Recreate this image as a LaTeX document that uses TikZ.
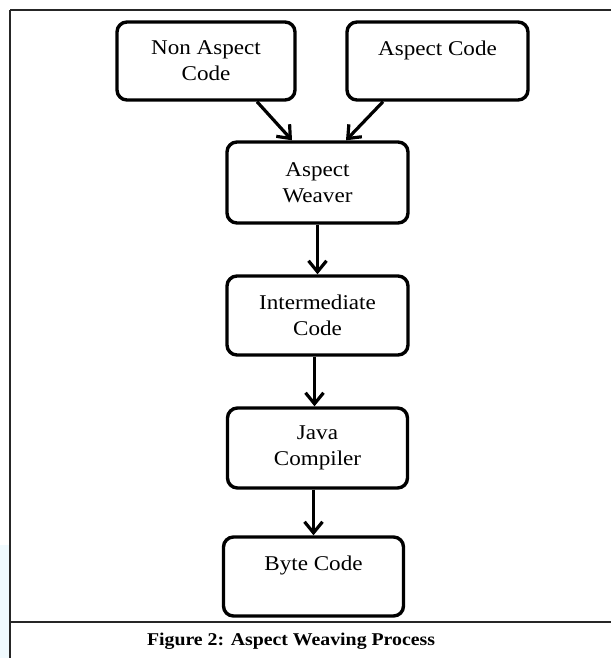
\documentclass[tikz,border=0pt]{standalone}
\usepackage{fontspec}
\setmainfont{Liberation Serif}[FakeStretch=1.1]
\usetikzlibrary{arrows.meta,calc}

\begin{document}
\begin{tikzpicture}[x=1pt,y=-1pt,
  stagebox/.style={draw, line width=3.4pt, rounded corners=10pt,
    minimum width=180pt, minimum height=79pt, inner sep=0pt,
    align=center, font=\fontsize{21}{26}\selectfont},
  flow/.style={line width=3.2pt, -{Straight Barb[length=11pt,width=18pt]}},
  frameline/.style={line width=2.2pt, draw=black!85}]

% page area and faint tint at the lower left edge
\useasboundingbox (0,0) rectangle (611,658);
\fill[cyan!6] (0,545) rectangle (9,658);

% figure frame
\draw[frameline] (10,10) -- (611,10);
\draw[frameline] (10,10) -- (10,658);
\draw[frameline] (10,622) -- (611,622);

% process stages
\node[stagebox, minimum width=178pt, minimum height=78pt] (na) at (206,61) {Non Aspect\\Code};
\node[stagebox, minimum width=181pt, minimum height=78pt] (ac) at (437.5,61) {Aspect Code\\~};
\node[stagebox, minimum width=181pt, minimum height=81pt] (aw) at (317.5,182.5) {Aspect\\Weaver};
\node[stagebox, minimum width=181pt] (ic) at (317.5,315.5) {Intermediate\\Code};
\node[stagebox, minimum height=80pt] (jc) at (317.5,448) {Java\\Compiler};
\node[stagebox] (bc) at (313.5,576.5) {Byte Code\\~};

% connectors
\draw[flow] ($(na.south)+(51,0)$) -- ($(aw.north)+(-25.5,0)$);
\draw[flow] ($(ac.south)+(-54.5,0)$) -- ($(aw.north)+(28.5,0)$);
\draw[flow] (aw.south) -- (ic.north);
\draw[flow] ($(ic.south)+(-3,0)$) -- ($(jc.north)+(-3,0)$);
\draw[flow] ($(jc.south)+(-4,0)$) -- ($(bc.north)+(0,0)$);

% caption
\node[font=\fontsize{18}{22}\selectfont\bfseries] (cap) at (291,641) {Figure 2: Aspect Weaving Process};
\end{tikzpicture}
\end{document}
